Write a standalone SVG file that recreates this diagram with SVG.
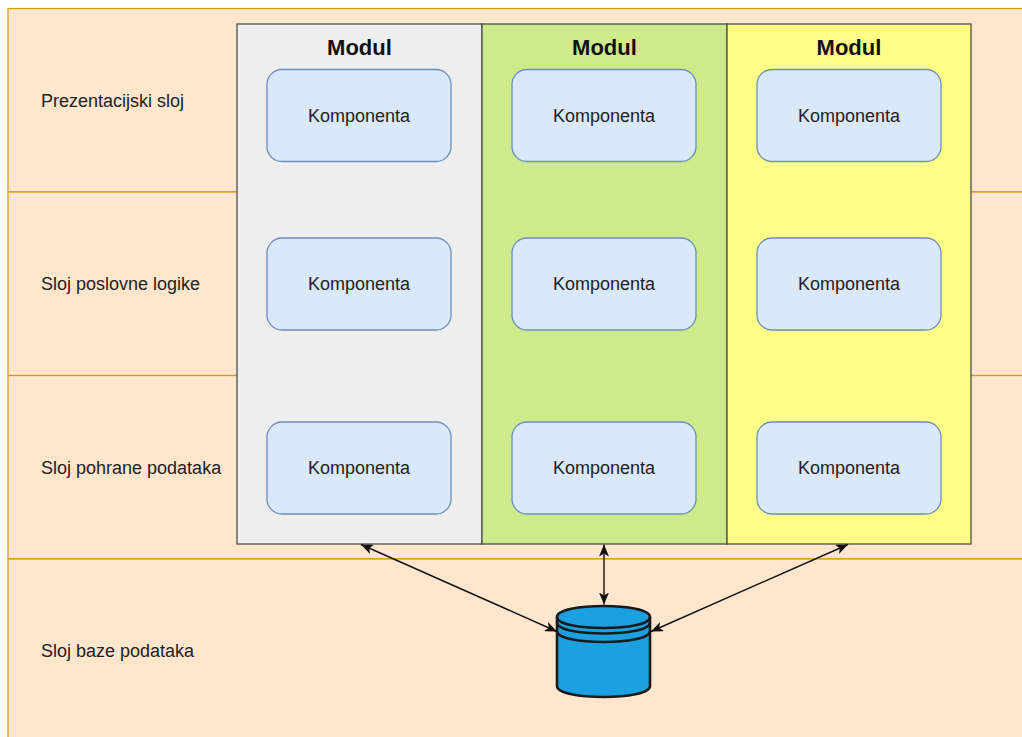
<svg xmlns="http://www.w3.org/2000/svg" width="1022" height="737" viewBox="0 0 1022 737">
<style>
.band{fill:#FFE6CC;stroke:#D79B00;stroke-width:1.2}
.mod{stroke:#4d4d4d;stroke-width:1.3}
.comp{fill:#DAE8FC;stroke:#6C8EBF;stroke-width:1.3}
.lbl{font-family:"Liberation Sans",Arial,sans-serif;font-size:18px;fill:#222}
.ct{font-family:"Liberation Sans",Arial,sans-serif;font-size:18px;fill:#222;text-anchor:middle}
.mt{font-family:"Liberation Sans",Arial,sans-serif;font-size:22px;font-weight:bold;fill:#111;text-anchor:middle}
.conn{fill:none;stroke:#111;stroke-width:1.4}
.db{fill:#1BA1E2;stroke:#1a1a1a;stroke-width:2.6}
.dbl{fill:none;stroke:#1a1a1a;stroke-width:2.6}
</style>
<defs>
<marker id="arr" viewBox="0 0 12 10" refX="12" refY="5" markerWidth="12" markerHeight="10" markerUnits="userSpaceOnUse" orient="auto-start-reverse">
<path d="M0,0 L12,5 L0,10 L3,5 Z" fill="#111"/>
</marker>
</defs>
<rect width="1022" height="737" fill="#ffffff"/>
<g id="layers">
<g id="layer-presentation">
<rect class="band" x="8" y="8.5" width="1030" height="183.5"/>
<text class="lbl" x="41" y="106.5">Prezentacijski sloj</text>
</g>
<g id="layer-business">
<rect class="band" x="8" y="192" width="1030" height="183.5"/>
<text class="lbl" x="41" y="290">Sloj poslovne logike</text>
</g>
<g id="layer-storage">
<rect class="band" x="8" y="375.5" width="1030" height="183.5"/>
<text class="lbl" x="41" y="473.5">Sloj pohrane podataka</text>
</g>
<g id="layer-database">
<rect class="band" x="8" y="559" width="1030" height="200"/>
<text class="lbl" x="41" y="657">Sloj baze podataka</text>
</g>
</g>
<g id="module1">
<rect class="mod" x="237" y="24" width="245" height="520" fill="#EEEEEE"/>
<text class="mt" x="359.5" y="55">Modul</text>
</g>
<g id="module2">
<rect class="mod" x="482" y="24" width="245" height="520" fill="#CDEB8B"/>
<text class="mt" x="604.5" y="55">Modul</text>
</g>
<g id="module3">
<rect class="mod" x="727" y="24" width="244" height="520" fill="#FFFF88"/>
<text class="mt" x="849" y="55">Modul</text>
</g>
<g id="c11"><rect class="comp" x="267" y="69.5" width="184" height="92" rx="15"/><text class="ct" x="359" y="121.5">Komponenta</text></g>
<g id="c21"><rect class="comp" x="267" y="238" width="184" height="92" rx="15"/><text class="ct" x="359" y="290">Komponenta</text></g>
<g id="c31"><rect class="comp" x="267" y="422" width="184" height="92" rx="15"/><text class="ct" x="359" y="474">Komponenta</text></g>
<g id="c12"><rect class="comp" x="512" y="69.5" width="184" height="92" rx="15"/><text class="ct" x="604" y="121.5">Komponenta</text></g>
<g id="c22"><rect class="comp" x="512" y="238" width="184" height="92" rx="15"/><text class="ct" x="604" y="290">Komponenta</text></g>
<g id="c32"><rect class="comp" x="512" y="422" width="184" height="92" rx="15"/><text class="ct" x="604" y="474">Komponenta</text></g>
<g id="c13"><rect class="comp" x="757" y="69.5" width="184" height="92" rx="15"/><text class="ct" x="849" y="121.5">Komponenta</text></g>
<g id="c23"><rect class="comp" x="757" y="238" width="184" height="92" rx="15"/><text class="ct" x="849" y="290">Komponenta</text></g>
<g id="c33"><rect class="comp" x="757" y="422" width="184" height="92" rx="15"/><text class="ct" x="849" y="474">Komponenta</text></g>
<g id="database">
<path class="db" d="M557,617 C557,602.3 650,602.3 650,617 L650,686 C650,700.7 557,700.7 557,686 Z"/>
<path class="dbl" d="M557,617 C557,631.7 650,631.7 650,617"/>
<path class="dbl" d="M557,622.5 C557,637.2 650,637.2 650,622.5"/>
<path class="dbl" d="M557,631 C557,645.7 650,645.7 650,631"/>
</g>
<g id="connectors">
<path class="conn" d="M361,544.5 L557,631.5" marker-start="url(#arr)" marker-end="url(#arr)"/>
<path class="conn" d="M604,544.5 L604,604.5" marker-start="url(#arr)" marker-end="url(#arr)"/>
<path class="conn" d="M848,544.5 L651,631.5" marker-start="url(#arr)" marker-end="url(#arr)"/>
</g>
</svg>
